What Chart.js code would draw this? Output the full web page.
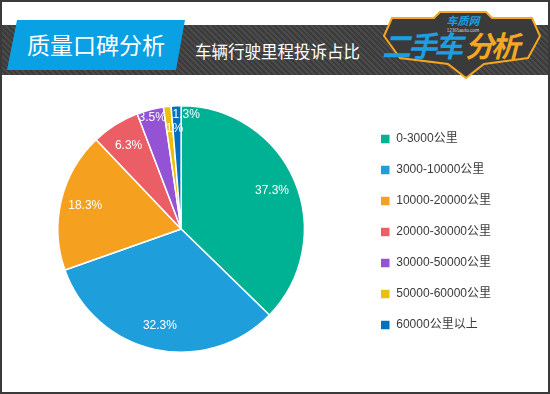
<!DOCTYPE html>
<html lang="zh">
<head>
<meta charset="UTF-8">
<title>车辆行驶里程投诉占比</title>
<style>
  html, body { margin: 0; padding: 0; background: #fff; }
  body { position: relative; width: 550px; height: 394px; overflow: hidden; font-family: "Noto Sans CJK SC", sans-serif; }
  .frame { position: absolute; left: 0; top: 0; width: 550px; height: 394px; box-sizing: border-box; border: 2px solid #3a3a3a; z-index: 10; pointer-events: none; }
  .banner { position: absolute; left: 0; top: 25px; width: 550px; height: 50px;
    background: repeating-linear-gradient(45deg, #3b3b3b 0px, #3b3b3b 2px, #4a4a4a 2px, #4a4a4a 4px); }
  .tag { position: absolute; left: 7px; top: 20px; width: 178px; height: 50px; background: #0aa0e4;
    clip-path: polygon(10px 0, 100% 0, 169px 100%, 0 100%); }
  .tag span { position: absolute; left: 20px; top: 9px; color: #fff; font-size: 23px; line-height: 30px; }
  .sub { position: absolute; left: 195px; top: 40px; color: #fff; font-size: 16.5px; line-height: 22px; }
  .logo { position: absolute; left: 376px; top: 6px; width: 170px; height: 76px; }
  .chart-box { position: absolute; left: 1px; top: 99px; width: 500px; height: 260px; }
</style>
</head>
<body>
<div class="banner"></div>
<div class="tag"><span>质量口碑分析</span></div>
<div class="sub">车辆行驶里程投诉占比</div>
<svg class="logo" viewBox="0 0 170 76">
  <polygon points="16,12 58,12 64,6 110,6 116,12 156,12 164,30 152,52 108,58 90,72 72,58 24,52 8,30" fill="#3a3a3a" stroke="#f5a623" stroke-width="2"/>
  <text x="87" y="19" text-anchor="middle" font-size="11" font-weight="bold" fill="#1d9ee0" font-style="italic">车质网</text>
  <text x="87" y="26" text-anchor="middle" font-size="4.5" fill="#ddd">12365auto.com</text>
  <text x="6" y="51" font-size="29" font-weight="bold" fill="#1d9ee0" font-style="italic" letter-spacing="-3">二手车</text>
  <text x="89" y="51" font-size="29" font-weight="bold" fill="#f5a623" font-style="italic" letter-spacing="-3">分析</text>
</svg>
<div class="chart-box"><canvas id="pie"></canvas></div>
<div class="frame"></div>

<script src="https://cdn.jsdelivr.net/npm/chart.js"></script>
<script>
const ranges = ['0-3000公里', '3000-10000公里', '10000-20000公里', '20000-30000公里', '30000-50000公里', '50000-60000公里', '60000公里以上'];
const shares = [37.3, 32.3, 18.3, 6.3, 3.5, 1, 1.3];
const sliceColors = ['#00b294', '#1e9fdc', '#f6a01f', '#ec5e66', '#9452d4', '#e9c00d', '#0070c0'];

const fontFamily = '"Liberation Sans", Arial, "Noto Sans CJK SC", sans-serif';

// percentage labels inside the slices
const sliceLabels = {
  id: 'sliceLabels',
  afterDatasetsDraw(chart) {
    const ctx = chart.ctx;
    const meta = chart.getDatasetMeta(0);
    ctx.save();
    ctx.font = '12px ' + fontFamily;
    ctx.fillStyle = '#fff';
    ctx.textBaseline = 'middle';
    meta.data.forEach((arc, i) => {
      const v = shares[i];
      const p = arc.getProps(['x', 'y', 'startAngle', 'endAngle', 'outerRadius'], true);
      const mid = (p.startAngle + p.endAngle) / 2;
      let f = 0.8;
      if (v < 5) f = 0.93;
      if (v <= 1) f = 0.82;
      const r = p.outerRadius * f;
      let x = p.x + Math.cos(mid) * r;
      const y = p.y + Math.sin(mid) * r;
      if (v < 2) { ctx.textAlign = 'left'; x -= 4; } else { ctx.textAlign = 'center'; }
      ctx.fillText(v + '%', x, y);
    });
    ctx.restore();
  }
};

new Chart(document.getElementById('pie'), {
  type: 'pie',
  data: {
    labels: ranges,
    datasets: [{
      data: shares,
      backgroundColor: sliceColors,
      borderColor: '#fff',
      borderWidth: 1.5
    }]
  },
  options: {
    responsive: true,
    maintainAspectRatio: false,
    animation: false,
    layout: { padding: { top: 6, bottom: 6 } },
    plugins: {
      tooltip: { enabled: false },
      legend: {
        position: 'right',
        // empty title only nudges the legend rows a little lower
        title: { display: true, text: ' ', padding: 0, font: { size: 6, lineHeight: 1 } },
        labels: {
          boxWidth: 10,
          boxHeight: 10,
          padding: 19,
          color: '#3a3a3a',
          font: { size: 12, family: fontFamily }
        }
      }
    }
  },
  plugins: [sliceLabels]
});
</script>
</body>
</html>
